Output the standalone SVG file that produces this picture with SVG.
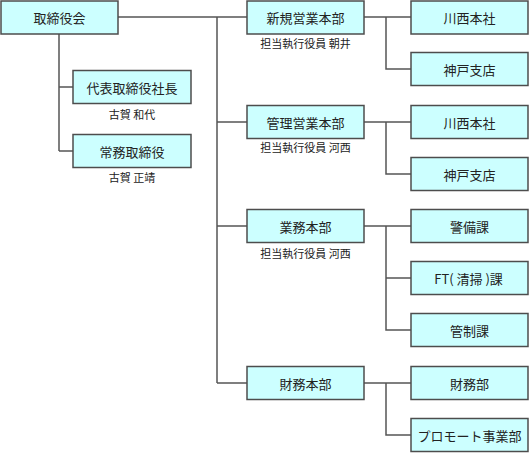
<svg xmlns="http://www.w3.org/2000/svg" width="529" height="453" viewBox="0 0 529 453">
<style>
.box{fill:#ccffff;stroke:#4d4d4d;stroke-width:1.5}
.t{font-family:"Noto Sans CJK JP","Liberation Sans",sans-serif;font-size:13px;fill:#222;text-anchor:middle;dominant-baseline:central}
.s{font-family:"Noto Sans CJK JP","Liberation Sans",sans-serif;font-size:11px;fill:#222;text-anchor:middle;dominant-baseline:central}
.c{fill:none;stroke:#555;stroke-width:1.5}
</style>
<rect width="529" height="453" fill="#fff"/>
<g id="connectors" class="c">
<path d="M118 17H247M217 17V383M217 122H247M217 226H247M217 383H247"/>
<path d="M59 34V151M59 87H73M59 151H73"/>
<path d="M364 17H411M386 17V69H411"/>
<path d="M364 122H411M386 122V174H411"/>
<path d="M364 226H411M386 226V330H411M386 278H411"/>
<path d="M364 383H411M386 383V435H411"/>
</g>
<g id="board"><rect class="box" x="1" y="1" width="117" height="33"/><text class="t" x="59.5" y="17.5">取締役会</text></g>
<g id="president"><rect class="box" x="73" y="70.5" width="118" height="33"/><text class="t" x="132" y="87">代表取締役社長</text><text class="s" x="132" y="114">古賀 和代</text></g>
<g id="managing"><rect class="box" x="73" y="134.5" width="118" height="33"/><text class="t" x="132" y="151">常務取締役</text><text class="s" x="132" y="177">古賀 正靖</text></g>
<g id="shinki"><rect class="box" x="247" y="1" width="117" height="33"/><text class="t" x="305.5" y="17.5">新規営業本部</text><text class="s" x="305.5" y="43">担当執行役員 朝井</text></g>
<g id="kanri"><rect class="box" x="247" y="105.5" width="117" height="33"/><text class="t" x="305.5" y="122">管理営業本部</text><text class="s" x="305.5" y="147">担当執行役員 河西</text></g>
<g id="gyomu"><rect class="box" x="247" y="209.5" width="117" height="33"/><text class="t" x="305.5" y="226">業務本部</text><text class="s" x="305.5" y="253">担当執行役員 河西</text></g>
<g id="zaimu"><rect class="box" x="247" y="366.5" width="117" height="33"/><text class="t" x="305.5" y="383">財務本部</text></g>
<g id="kawanishi1"><rect class="box" x="411" y="1" width="117" height="33"/><text class="t" x="469.5" y="17.5">川西本社</text></g>
<g id="kobe1"><rect class="box" x="411" y="52.5" width="117" height="33"/><text class="t" x="469.5" y="69">神戸支店</text></g>
<g id="kawanishi2"><rect class="box" x="411" y="105.5" width="117" height="33"/><text class="t" x="469.5" y="122">川西本社</text></g>
<g id="kobe2"><rect class="box" x="411" y="157.5" width="117" height="33"/><text class="t" x="469.5" y="174">神戸支店</text></g>
<g id="keibi"><rect class="box" x="411" y="209.5" width="117" height="33"/><text class="t" x="469.5" y="226">警備課</text></g>
<g id="ft"><rect class="box" x="411" y="261.5" width="117" height="33"/><text class="t" x="468.5" y="278">FT( 清掃 )課</text></g>
<g id="kansei"><rect class="box" x="411" y="313.5" width="117" height="33"/><text class="t" x="469.5" y="330">管制課</text></g>
<g id="zaimubu"><rect class="box" x="411" y="366.5" width="117" height="33"/><text class="t" x="469.5" y="383">財務部</text></g>
<g id="promote"><rect class="box" x="411" y="418.5" width="117" height="33"/><text class="t" x="469.5" y="435">プロモート事業部</text></g>
</svg>
